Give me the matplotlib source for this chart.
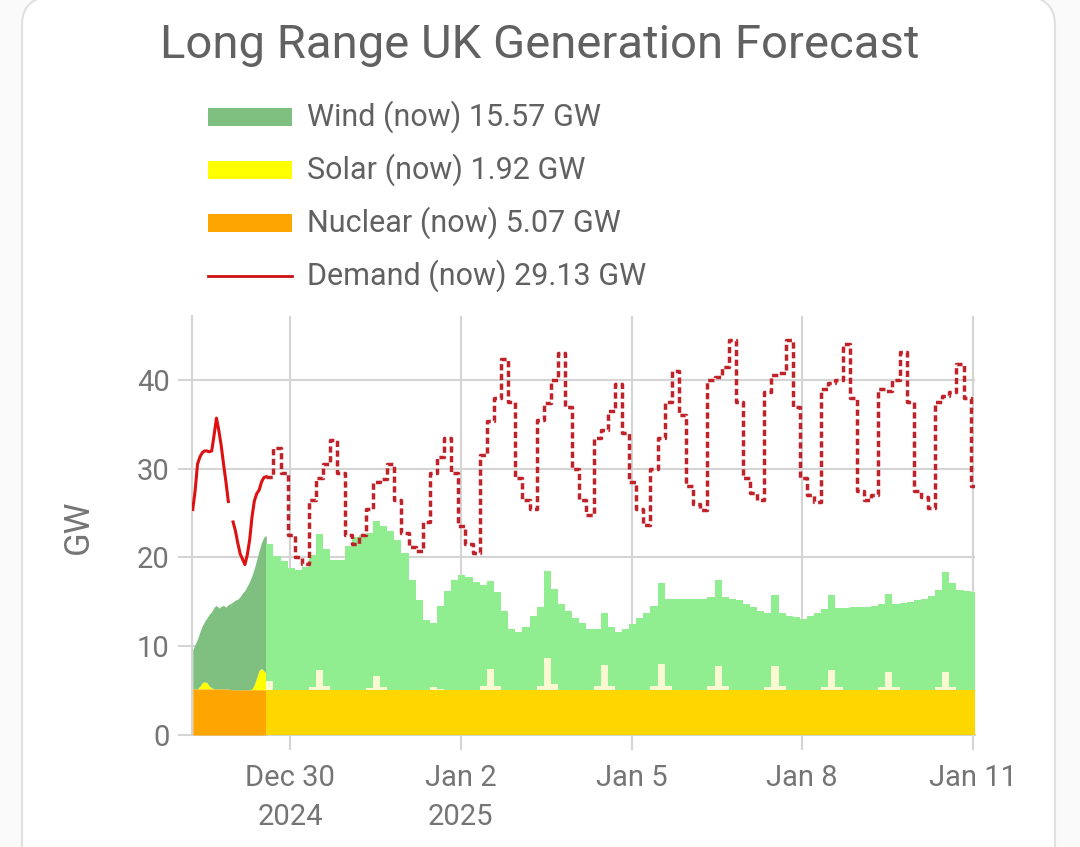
import numpy as np
import pandas as pd
import matplotlib
matplotlib.use("Agg")
import matplotlib.pyplot as plt
from matplotlib.patches import Rectangle, FancyBboxPatch
from matplotlib.lines import Line2D

plt.rcParams['font.family'] = ['Roboto', 'DejaVu Sans']

# --- past (actual) data, hourly from Dec 28 07:00 to Dec 29 14:00
past_times = pd.date_range("2024-12-28 07:00", periods=32, freq="h")
demand_past = [25.4, 27.5, 30.5, 31.3, 31.8, 32.0, 32.0, 31.9, 32.0, 33.8, 35.7, 34.3,
               32.6, 30.5, 28.5, 26.3, np.nan, 24.0, 23.0, 21.6, 20.4, 19.8, 19.2, 20.3,
               22.0, 24.6, 26.4, 27.2, 27.6, 28.5, 29.0, 29.1]
wind_past = [4.4, 5.0, 5.6, 6.1, 6.4, 6.8, 7.3, 8.1, 8.6, 9.2, 9.4, 9.1,
             9.3, 9.4, 9.2, 9.5, 9.7, 9.9, 10.1, 10.2, 10.5, 10.9, 11.2, 11.7,
             12.2, 12.8, 13.1, 13.3, 13.5, 14.2, 15.1, 15.5]
solar_past = [0, 0, 0, 0.3, 0.7, 0.8, 0.7, 0.3, 0.1, 0, 0, 0,
              0, 0, 0, 0, 0, 0, 0, 0, 0, 0, 0, 0,
              0, 0.1, 0.6, 1.4, 2.2, 2.4, 2.1, 1.9]
nuclear_past = [5.2, 5.2, 5.2, 5.2, 5.2, 5.2, 5.2, 5.2, 5.2, 5.2, 5.2, 5.2,
                5.2, 5.2, 5.2, 5.2, 5.1, 5.1, 5.1, 5.1, 5.1, 5.1, 5.1, 5.1,
                5.1, 5.1, 5.1, 5.1, 5.1, 5.1, 5.1, 5.07]

# --- forecast, 3-hourly from Dec 29 14:00 to Jan 10 23:00
fc_times = pd.date_range("2024-12-29 14:00", periods=100, freq="3h")
demand_fc = [29.1, 32.3, 29.5, 22.5,
             20.0, 19.3, 26.5, 29.0, 30.5, 33.2, 29.5, 22.5,
             21.5, 22.5, 25.5, 28.5, 28.8, 30.5, 26.5, 22.8,
             21.2, 20.7, 24.0, 29.5, 31.3, 33.5, 29.5, 23.5,
             21.5, 20.5, 31.5, 35.4, 38.0, 42.3, 37.5, 29.0,
             26.5, 25.5, 35.5, 37.4, 40.0, 43.0, 37.0, 30.0,
             26.5, 24.8, 33.5, 34.4, 36.5, 39.5, 34.0, 28.5,
             25.5, 23.7, 30.0, 33.5, 37.5, 41.0, 36.0, 28.0,
             26.0, 25.3, 40.0, 40.3, 41.5, 44.5, 37.5, 29.0,
             27.3, 26.5, 38.6, 40.5, 40.8, 44.5, 37.0, 29.0,
             27.0, 26.3, 39.0, 39.7, 40.0, 44.0, 38.0, 27.5,
             26.5, 27.0, 39.0, 38.7, 40.0, 43.2, 37.5, 27.5,
             26.8, 25.6, 37.5, 38.2, 38.6, 41.8, 38.0, 28.0]
wind_fc = [15.5, 15.1, 14.5, 13.7,
           13.5, 13.9, 14.9, 15.4, 15.5, 14.6, 14.6, 16.2,
           17.2, 17.5, 17.5, 17.4, 18.2, 17.9, 16.9, 15.4,
           12.4, 10.1, 7.9, 7.2, 9.4, 11.2, 12.4, 12.9,
           12.7, 12.2, 11.4, 9.9, 10.5, 8.9, 6.9, 6.5,
           7.1, 8.3, 8.9, 9.8, 10.7, 9.7, 8.9, 8.1,
           7.5, 6.9, 6.5, 5.9, 6.7, 6.5, 6.9, 7.4,
           8.1, 8.7, 9.0, 9.2, 9.8, 10.3, 10.3, 10.3,
           10.3, 10.3, 10.1, 9.7, 10.1, 10.2, 10.1, 9.7,
           9.3, 8.9, 8.4, 8.0, 8.3, 8.3, 8.2, 8.0,
           8.3, 8.7, 8.8, 8.4, 8.9, 9.2, 9.3, 9.4,
           9.4, 9.5, 9.4, 8.8, 9.4, 9.8, 9.9, 10.1,
           10.3, 10.6, 11.0, 11.3, 11.8, 11.3, 11.1, 11.0]
solar_fc = [1.0, 0, 0, 0,
            0, 0, 0.3, 2.2, 0.4, 0, 0, 0,
            0, 0, 0.2, 1.6, 0.3, 0, 0, 0,
            0, 0, 0.0, 0.3, 0.1, 0, 0, 0,
            0, 0, 0.4, 2.4, 0.5, 0, 0, 0,
            0, 0, 0.5, 3.6, 0.7, 0, 0, 0,
            0, 0, 0.4, 2.8, 0.4, 0, 0, 0,
            0, 0, 0.5, 2.9, 0.5, 0, 0, 0,
            0, 0, 0.4, 2.7, 0.4, 0, 0, 0,
            0, 0, 0.3, 2.7, 0.4, 0, 0, 0,
            0, 0, 0.3, 2.3, 0.3, 0, 0, 0,
            0, 0, 0.3, 2.0, 0.3, 0, 0, 0,
            0, 0, 0.3, 2.0, 0.3, 0, 0, 0]
nuclear_fc = 5.07

legend_labels = ["Wind (now) 15.57 GW", "Solar (now) 1.92 GW",
                 "Nuclear (now) 5.07 GW", "Demand (now) 29.13 GW"]
tick_dates = ["2024-12-30", "2025-01-02", "2025-01-05", "2025-01-08", "2025-01-11"]
tick_labels = ["Dec 30\n2024", "Jan 2\n2025", "Jan 5", "Jan 8", "Jan 11"]

W, H = 1080, 847
TXT = '#616161'
GRID = '#d4d4d4'

fig = plt.figure(figsize=(W / 100, H / 100), dpi=100)
fig.patch.set_facecolor('#fafafa')

# card background (behind everything)
card = FancyBboxPatch((22 / W, -0.05), (1055 - 22) / W, 1.056,
                      boxstyle="round,pad=0,rounding_size=0.035",
                      transform=fig.transFigure, facecolor='white',
                      edgecolor='#e0e0e0', linewidth=1.5, zorder=-10)
fig.patches.append(card)

fig.text(540 / W, 1 - 45 / H, "Long Range UK Generation Forecast",
         ha='center', va='center', fontsize=34, color=TXT)

# legend drawn by hand
leg_colors = ['#7fbf7f', '#ffff00', '#ffa500']
rows_y = [117, 170, 223, 276]
for i, lab in enumerate(legend_labels):
    y = rows_y[i]
    if i < 3:
        fig.patches.append(Rectangle((208 / W, 1 - (y + 9) / H), 84 / W, 18 / H,
                                     transform=fig.transFigure,
                                     facecolor=leg_colors[i], edgecolor='none'))
    else:
        fig.lines.append(Line2D([208 / W, 292 / W], [1 - y / H, 1 - y / H],
                                transform=fig.transFigure, color='#cc1111', lw=2))
    fig.text(307 / W, 1 - y / H, lab, ha='left', va='center',
             fontsize=22, color=TXT)

ax = fig.add_axes([192 / W, 1 - 735 / H, (975 - 192) / W, (735 - 316) / H])
ax.set_facecolor('none')
ax.set_zorder(5)

# past: stacked nuclear, solar, wind
nuc_p = np.array(nuclear_past)
sol_p = np.array(solar_past)
win_p = np.array(wind_past)
ax.fill_between(past_times, 0, nuc_p, color='#ffa500', lw=0, zorder=2)
ax.fill_between(past_times, nuc_p, nuc_p + sol_p, color='#ffff00', lw=0, zorder=2)
ax.fill_between(past_times, nuc_p + sol_p, nuc_p + sol_p + win_p,
                color='#7fbf7f', lw=0, zorder=2)

# forecast: stepped areas, last step runs to the right edge
end_time = pd.Timestamp("2025-01-11 00:50")
t_fc = fc_times.append(pd.DatetimeIndex([end_time]))
sol_f = np.append(solar_fc, solar_fc[-1])
win_f = np.append(wind_fc, wind_fc[-1])
nuc_f = np.full(len(t_fc), nuclear_fc)
ax.fill_between(t_fc, 0, nuc_f, step='post', color='#ffd700', lw=0, zorder=2)
ax.fill_between(t_fc, nuc_f, nuc_f + sol_f, step='post', color='#fafad2', lw=0, zorder=2)
ax.fill_between(t_fc, nuc_f + sol_f, nuc_f + sol_f + win_f, step='post',
                color='#90ee90', lw=0, zorder=2)

# demand
ax.plot(past_times, demand_past, color='#dd1111', lw=2.2, zorder=3)
dem_f = np.append(demand_fc, demand_fc[-1])
ax.plot(t_fc, dem_f, drawstyle='steps-post', color='#c0222a', lw=2.5,
        linestyle=(0, (1.8, 1.0)), zorder=3)

ax.set_xlim(pd.Timestamp("2024-12-28 06:41"), end_time)
ax.set_ylim(0, 47.2)
ax.set_yticks([0, 10, 20, 30, 40])
ax.set_xticks(pd.to_datetime(tick_dates))
ax.set_xticklabels(tick_labels, linespacing=1.5)
ax.grid(True, color=GRID, lw=1.5, zorder=0)
ax.axhline(0, color=GRID, lw=1.5, zorder=1, clip_on=False)
for s in ['top', 'right', 'bottom']:
    ax.spines[s].set_visible(False)
ax.spines['left'].set_color(GRID)
ax.spines['left'].set_linewidth(1.5)
ax.tick_params(axis='y', length=10, width=1.5, color=GRID, pad=6,
               labelsize=21, labelcolor='#757575')
ax.tick_params(axis='x', length=11, width=1.5, color=GRID, pad=10,
               labelsize=21, labelcolor='#757575')

fig.text(78 / W, 1 - 527 / H, "GW", rotation=90, ha='center', va='center',
         fontsize=25, color='#757575')

fig.savefig("out.png", dpi=100, facecolor=fig.get_facecolor())
